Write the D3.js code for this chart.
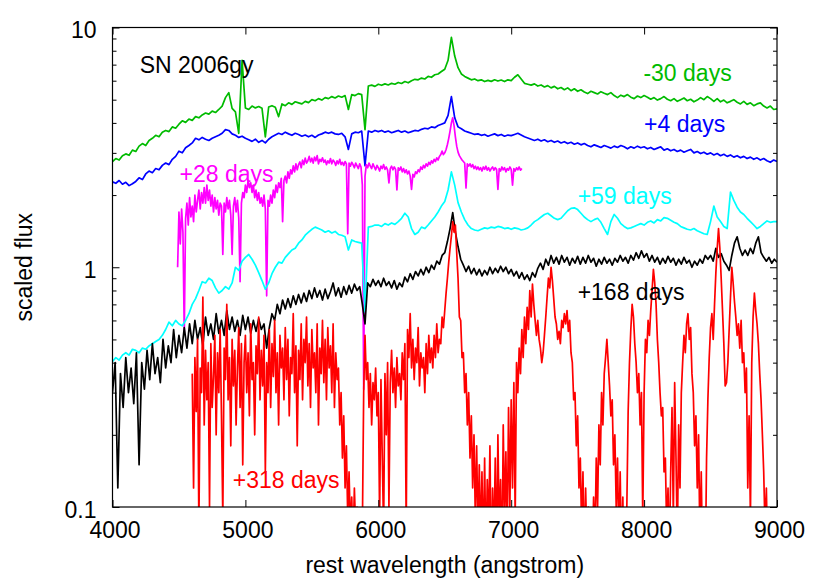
<!DOCTYPE html>
<html><head><meta charset="utf-8">
<script src="https://cdn.jsdelivr.net/npm/d3@7/dist/d3.min.js"></script>
<style>body{margin:0;background:#fff}text{font-family:"Liberation Sans",Arial,Helvetica,sans-serif}</style>
</head><body>
<svg id="chart" width="830" height="581"></svg>
<script>
// ---------- axis ticks ----------
const xTicks = [4000,5000,6000,7000,8000,9000];
const yTicks = [0.1,1,10];
const yTickLabels = ["0.1","1","10"];
const yMinorTicks = [0.2,0.3,0.4,0.5,0.6,0.7,0.8,0.9,2,3,4,5,6,7,8,9];

// ---------- spectra (scaled flux, uniform wavelength grid between start and end) ----------
const greenRange = [4000,9000]; // -30 days
const greenFlux = [
2.76,2.84,2.80,2.92,2.97,2.93,3.08,3.04,3.20,3.28,3.22,3.38,3.45,3.55,3.50,3.66,3.72,3.68,3.85,3.80,
3.95,4.08,4.02,4.15,4.10,4.25,4.20,4.32,4.40,4.35,4.48,4.42,4.55,4.70,5.10,5.35,4.60,4.45,3.62,7.30,
4.62,4.55,4.70,4.62,4.68,4.60,3.50,4.66,4.72,4.65,4.25,4.80,4.72,4.85,4.78,4.90,4.85,4.80,4.92,4.86,
5.00,4.95,5.05,4.98,5.10,5.05,5.15,5.08,5.18,5.12,5.20,4.55,5.25,5.20,5.30,5.25,3.75,5.70,5.75,5.68,
5.80,5.74,5.82,5.76,5.85,5.80,5.90,5.84,5.95,5.88,6.00,6.08,6.05,6.15,6.10,6.25,6.20,6.35,6.40,6.55,
6.70,7.30,9.10,7.60,6.80,6.40,6.25,6.15,6.05,6.10,6.00,6.05,5.95,6.02,5.96,6.05,5.98,6.04,5.95,6.05,
6.00,6.20,6.35,6.10,5.85,5.80,5.75,5.82,5.70,5.76,5.65,5.72,5.60,5.68,5.55,5.62,5.50,5.60,5.45,5.55,
5.42,5.50,5.38,5.30,5.42,5.35,5.28,5.40,5.32,5.25,5.35,5.20,5.10,5.22,5.15,5.25,5.12,5.05,5.18,5.10,
5.20,5.12,5.02,5.10,4.98,5.05,5.15,5.02,4.95,5.05,4.92,5.00,5.08,4.95,5.02,4.90,4.98,5.10,5.00,5.15,
5.05,4.92,5.05,4.90,4.98,4.85,4.92,5.00,4.88,4.80,4.92,4.78,4.85,4.72,4.80,4.85,4.70,4.62,4.70,4.55,
4.58];

const blueRange = [4000,9000]; // +4 days
const blueFlux = [
2.27,2.24,2.30,2.22,2.26,2.19,2.23,2.28,2.36,2.32,2.45,2.52,2.48,2.58,2.55,2.66,2.72,2.68,2.82,2.90,
3.05,3.00,3.15,3.22,3.30,3.45,3.40,3.48,3.42,3.38,3.45,3.50,3.55,3.62,3.75,3.72,3.60,3.55,3.48,3.52,
3.45,3.40,3.35,3.42,3.32,3.38,3.30,3.42,3.50,3.56,3.62,3.58,3.66,3.60,3.55,3.62,3.58,3.52,3.56,3.50,
3.55,3.48,3.56,3.60,3.66,3.62,3.66,3.60,3.58,3.62,3.50,3.10,3.60,3.66,3.64,3.70,2.65,3.70,3.66,3.72,
3.68,3.72,3.66,3.70,3.64,3.68,3.72,3.66,3.70,3.64,3.68,3.72,3.70,3.76,3.80,3.78,3.85,3.82,3.90,3.95,
4.00,4.30,5.15,4.20,3.85,3.78,3.70,3.66,3.62,3.58,3.60,3.55,3.58,3.52,3.56,3.60,3.54,3.58,3.52,3.56,
3.54,3.58,3.62,3.56,3.50,3.46,3.42,3.38,3.42,3.36,3.40,3.34,3.38,3.32,3.36,3.30,3.34,3.28,3.32,3.26,
3.30,3.24,3.28,3.22,3.18,3.24,3.20,3.16,3.22,3.18,3.14,3.20,3.16,3.22,3.18,3.12,3.18,3.14,3.20,3.15,
3.18,3.12,3.16,3.10,3.14,3.18,3.08,3.12,3.06,3.10,3.04,3.08,3.02,3.06,3.10,3.00,3.04,2.98,3.02,2.96,
3.00,2.94,2.98,2.92,2.96,2.90,2.94,2.88,2.92,2.86,2.90,2.84,2.88,2.82,2.86,2.80,2.84,2.78,2.74,2.80,
2.76];

const magentaRange = [4490,7080]; // +28 days
const magentaFlux = [
1.00,1.70,1.25,1.75,1.40,0.53,1.60,1.85,1.50,1.95,1.62,1.80,1.55,2.00,1.70,1.90,2.10,1.75,2.05,1.85,
2.15,1.85,2.20,1.90,2.10,1.80,2.00,1.70,1.95,1.75,1.90,1.65,1.85,1.80,1.13,1.85,1.70,1.95,1.75,1.90,
1.65,1.13,1.80,1.95,1.70,1.90,1.60,0.87,1.85,2.05,1.95,2.20,2.05,2.30,2.15,2.25,2.05,2.20,1.95,2.10,
1.90,2.05,1.85,1.95,1.80,2.00,1.75,0.76,1.90,1.80,2.00,1.85,2.10,1.95,2.20,2.05,2.25,2.15,2.35,1.55,
2.30,2.40,2.25,2.50,2.35,2.55,2.45,2.65,2.50,2.70,2.55,2.68,2.75,2.60,2.80,2.68,2.85,2.72,2.78,2.90,
2.75,2.85,2.72,2.88,2.78,2.92,2.70,2.82,2.76,2.86,2.74,2.80,2.68,2.78,2.72,2.84,2.70,2.80,2.75,2.66,
2.78,2.70,2.82,2.68,2.74,2.66,2.76,2.70,1.38,2.72,2.64,2.74,2.68,2.60,2.72,2.65,2.58,2.70,2.62,2.20,
0.31,2.40,2.68,2.60,2.72,2.64,2.58,2.70,2.62,2.55,2.66,2.60,2.52,2.64,2.58,2.68,2.56,2.62,2.54,2.25,
2.58,2.64,2.55,2.62,2.56,2.10,2.60,2.54,2.62,2.50,2.58,2.48,2.55,2.45,2.52,2.40,2.11,2.44,2.38,2.50,
2.46,2.55,2.50,2.62,2.56,2.66,2.60,2.70,2.64,2.74,2.68,2.78,2.72,2.82,2.76,2.86,2.80,2.90,2.95,3.05,
2.95,3.00,3.10,3.25,3.45,3.70,4.00,4.20,3.90,3.50,3.20,3.02,2.92,2.86,2.80,2.76,2.72,2.14,2.70,2.64,
2.70,2.62,2.68,2.58,2.64,2.56,2.62,2.55,2.60,2.52,2.62,2.56,2.64,2.54,2.60,2.52,2.58,2.62,2.54,2.60,
2.56,2.11,2.58,2.52,2.62,2.55,2.60,2.50,2.58,2.54,2.62,2.56,2.20,2.58,2.52,2.60,2.55,2.62,2.54,2.58];

const cyanRange = [4000,9000]; // +59 days
const cyanFlux = [
0.405,0.42,0.41,0.43,0.44,0.43,0.455,0.45,0.44,0.46,0.455,0.47,0.48,0.49,0.50,0.52,0.55,0.59,0.57,0.60,
0.58,0.57,0.60,0.64,0.70,0.74,0.80,0.87,0.86,0.90,0.88,0.82,0.78,0.80,0.83,0.81,0.86,1.00,0.97,1.06,
1.10,1.13,1.08,1.02,0.95,0.88,0.81,0.86,0.94,1.00,1.05,1.04,1.10,1.14,1.18,1.20,1.26,1.30,1.36,1.40,
1.44,1.47,1.45,1.43,1.40,1.42,1.39,1.41,1.37,1.36,1.34,1.18,1.30,1.28,1.27,1.26,0.65,1.47,1.48,1.50,
1.50,1.48,1.52,1.50,1.53,1.51,1.55,1.60,1.68,1.62,1.45,1.37,1.40,1.47,1.45,1.50,1.56,1.62,1.70,1.80,
1.88,2.10,2.50,2.20,1.86,1.70,1.58,1.50,1.45,1.43,1.42,1.44,1.46,1.45,1.47,1.46,1.48,1.47,1.45,1.46,
1.44,1.46,1.45,1.43,1.44,1.46,1.50,1.55,1.58,1.62,1.66,1.68,1.64,1.60,1.58,1.60,1.66,1.72,1.76,1.77,
1.74,1.68,1.62,1.58,1.55,1.58,1.60,1.54,1.45,1.37,1.55,1.66,1.60,1.52,1.48,1.45,1.46,1.48,1.50,1.52,
1.50,1.54,1.56,1.53,1.58,1.56,1.61,1.60,1.57,1.54,1.52,1.48,1.46,1.44,1.43,1.45,1.42,1.40,1.38,1.37,
1.55,1.80,1.62,1.55,1.48,1.45,2.06,1.90,1.78,1.70,1.66,1.60,1.55,1.50,1.45,1.48,1.52,1.56,1.54,1.55,
1.55];

const blackRange = [4000,9000]; // +168 days
const blackFlux = [
0.30,0.40,0.12,0.36,0.26,0.42,0.30,0.38,0.27,0.44,0.15,0.40,0.31,0.45,0.34,0.48,0.36,0.42,0.33,0.50,0.38,0.47,0.40,0.55,0.42,
0.52,0.44,0.56,0.46,0.58,0.48,0.60,0.50,0.56,0.47,0.62,0.52,0.58,0.50,0.64,0.53,0.60,0.52,0.66,0.55,0.62,0.54,0.60,0.52,0.63,
0.55,0.62,0.53,0.60,0.54,0.61,0.55,0.58,0.46,0.56,0.64,0.60,0.70,0.64,0.73,0.67,0.74,0.68,0.76,0.70,0.77,0.71,0.78,0.72,0.80,
0.74,0.82,0.75,0.80,0.73,0.81,0.74,0.79,0.86,0.76,0.82,0.75,0.83,0.77,0.84,0.78,0.85,0.80,0.83,0.70,0.58,0.86,0.83,0.89,0.84,
0.88,0.83,0.90,0.84,0.87,0.82,0.88,0.81,0.86,0.83,0.91,0.87,0.94,0.89,0.96,0.92,0.98,0.93,1.00,0.95,1.02,0.98,1.06,1.03,1.12,
1.15,1.28,1.45,1.69,1.40,1.22,1.08,1.02,0.96,1.01,0.94,0.99,0.93,0.98,0.92,0.97,0.93,1.00,0.94,0.99,0.95,1.01,0.96,1.00,0.94,
0.98,0.92,0.96,0.90,0.95,0.89,0.93,0.88,0.95,0.91,0.99,1.04,0.98,1.08,1.02,1.12,1.04,1.10,1.03,1.12,1.05,1.10,1.02,1.09,1.04,
1.11,1.03,1.10,1.04,1.12,1.05,1.09,1.01,1.08,1.03,1.10,1.04,1.08,1.02,1.09,1.05,1.12,1.06,1.10,1.04,1.12,1.07,1.15,1.09,1.17,
1.10,1.14,1.06,1.12,1.05,1.10,1.03,1.09,1.04,1.11,1.05,1.09,1.02,1.08,1.03,1.10,1.04,1.07,1.00,1.06,1.02,1.08,1.04,1.12,1.08,
1.12,1.06,1.20,1.10,1.14,1.06,1.02,0.97,1.12,1.26,1.34,1.20,1.12,1.18,1.12,1.20,1.14,1.26,1.34,1.15,1.10,1.06,1.10,1.04,1.08,
1.05];

const redRange = [4600,8940]; // +318 days
const redFlux = [
0.36,0.12,0.42,0.25,0.50,0.08,0.38,0.30,0.75,0.22,0.45,0.28,0.40,0.10,0.48,0.26,0.35,0.52,0.20,0.44,
0.30,0.55,0.24,0.09,0.46,0.34,0.70,0.28,0.42,0.18,0.50,0.32,0.45,0.22,0.38,0.56,0.26,0.48,0.15,0.40,
0.52,0.30,0.44,0.24,0.58,0.34,0.40,0.20,0.47,0.36,0.62,0.28,0.45,0.32,0.52,0.14,0.40,0.30,0.55,0.26,
0.48,0.35,0.60,0.30,0.44,0.22,0.52,0.38,0.46,0.28,0.56,0.34,0.50,0.24,0.42,0.36,0.64,0.30,0.47,0.18,
0.45,0.34,0.58,0.28,0.50,0.40,0.62,0.32,0.48,0.26,0.55,0.38,0.44,0.30,0.58,0.22,0.46,0.36,0.60,0.33,
0.50,0.28,0.56,0.38,0.47,0.30,0.58,0.26,0.44,0.34,0.38,0.22,0.30,0.16,0.24,0.12,0.18,0.09,0.14,0.08,
0.11,0.07,0.12,0.08,0.10,0.06,0.09,0.07,0.08,0.30,0.52,0.34,0.40,0.26,0.36,0.22,0.33,0.28,0.38,0.24,
0.30,0.09,0.34,0.16,0.08,0.36,0.20,0.40,0.10,0.33,0.45,0.30,0.38,0.26,0.42,0.32,0.36,0.28,0.44,0.34,
0.48,0.08,0.55,0.42,0.64,0.38,0.50,0.34,0.46,0.40,0.56,0.32,0.44,0.38,0.42,0.30,0.48,0.36,0.52,0.40,
0.46,0.38,0.52,0.42,0.58,0.44,0.50,0.48,0.62,0.56,0.66,0.78,0.90,1.05,1.20,1.35,1.55,1.40,1.50,1.15,
0.90,0.62,0.60,0.42,0.44,0.30,0.36,0.22,0.30,0.16,0.24,0.12,0.20,0.09,0.18,0.08,0.15,0.07,0.14,0.06,
0.16,0.06,0.13,0.08,0.18,0.05,0.12,0.07,0.16,0.06,0.20,0.08,0.13,0.05,0.22,0.09,0.17,0.07,0.26,0.10,
0.28,0.12,0.33,0.09,0.40,0.30,0.46,0.36,0.55,0.42,0.62,0.48,0.68,0.55,0.80,0.62,0.85,0.70,0.60,0.52,
0.60,0.50,0.46,0.40,0.44,0.52,0.62,0.75,0.90,0.82,1.00,0.88,0.74,0.62,0.58,0.50,0.54,0.48,0.60,0.56,
0.64,0.58,0.66,0.54,0.60,0.44,0.40,0.28,0.30,0.18,0.24,0.12,0.16,0.08,0.14,0.06,0.12,0.07,0.10,0.05,
0.09,0.06,0.11,0.07,0.16,0.10,0.22,0.15,0.30,0.22,0.36,0.42,0.50,0.40,0.32,0.24,0.28,0.15,0.20,0.10,
0.16,0.07,0.14,0.06,0.11,0.05,0.08,0.10,0.25,0.40,0.55,0.70,0.62,0.48,0.40,0.30,0.36,0.22,0.30,0.09,
0.30,0.50,0.44,0.60,0.52,0.66,0.80,0.98,0.86,0.70,0.50,0.40,0.30,0.24,0.26,0.14,0.16,0.08,0.12,0.06,
0.14,0.26,0.09,0.33,0.16,0.07,0.22,0.12,0.30,0.40,0.52,0.44,0.58,0.64,0.50,0.56,0.36,0.30,0.18,0.24,
0.12,0.20,0.07,0.14,0.06,0.10,0.05,0.16,0.28,0.42,0.56,0.64,0.50,0.70,0.95,1.20,1.45,1.20,0.90,0.66,
0.48,0.32,0.33,0.40,0.55,0.75,1.00,0.86,0.72,0.62,0.52,0.58,0.46,0.60,0.40,0.44,0.30,0.38,0.12,0.24,
0.09,0.40,0.62,0.78,0.66,0.58,0.48,0.36,0.28,0.20,0.14,0.08,0.12,0.06,0.05];

// draw order: green, blue, magenta, cyan, black, red
const seriesNames  = ["-30 days","+4 days","+28 days","+59 days","+168 days","+318 days"];
const seriesColors = ["#00bb00","#0000ff","#ff00ff","#00ffff","#000000","#ff0000"];
const seriesRanges = [greenRange, blueRange, magentaRange, cyanRange, blackRange, redRange];
const seriesFluxes = [greenFlux, blueFlux, magentaFlux, cyanFlux, blackFlux, redFlux];

// text labels (data coordinates)
const labelTexts  = ["SN 2006gy","-30 days","+4 days","+28 days","+59 days","+168 days","+318 days"];
const labelWaves  = [4205,7995,8000,4505,7500,7500,4905];
const labelFluxes = [6.97,6.49,3.95,2.46,1.98,0.79,0.130];
const labelColors = ["#000000","#00bb00","#0000ff","#ff00ff","#00ffff","#000000","#ff0000"];

// ---------- layout ----------
const L = 112.5, R = 777, T = 27.5, B = 507;
const FS = 23;
const svg = d3.select("#chart");
svg.append("rect").attr("width",830).attr("height",581).attr("fill","#fff");

const x = d3.scaleLinear().domain([4000,9000]).range([L,R]);
const y = d3.scaleLog().domain([0.1,10]).range([B,T]);

svg.append("defs").append("clipPath").attr("id","plotclip")
  .append("rect").attr("x",L).attr("y",T).attr("width",R-L).attr("height",B-T);

// spectra
const line = d3.line().x(d=>x(d[0])).y(d=>y(d[1])).curve(d3.curveLinear);
const gLines = svg.append("g").attr("clip-path","url(#plotclip)");
seriesFluxes.forEach((flux,k)=>{
  const [s,e] = seriesRanges[k];
  const n = flux.length;
  const pts = flux.map((f,i)=>[s + i*(e-s)/(n-1), f]);
  gLines.append("path").datum(pts)
    .attr("d",line).attr("fill","none")
    .attr("stroke",seriesColors[k]).attr("stroke-width",1.7)
    .attr("stroke-linejoin","round");
});

// axes
function styleAxis(g){
  g.select(".domain").remove();
  g.selectAll(".tick line").attr("stroke","#000").attr("stroke-width",1);
  g.selectAll("text").attr("fill","#000").style("font-size",FS+"px")
   .style("font-family",'"Liberation Sans",Arial,Helvetica,sans-serif');
}
svg.append("g").attr("transform",`translate(0,${B})`)
  .call(d3.axisBottom(x).tickValues(xTicks).tickSizeInner(-7).tickSizeOuter(0).tickPadding(15).tickFormat(d3.format("d")))
  .call(styleAxis).call(g=>g.selectAll("text").attr("dx",2));
svg.append("g").attr("transform",`translate(0,${T})`)
  .call(d3.axisTop(x).tickValues(xTicks).tickSizeInner(-7).tickSizeOuter(0).tickFormat(""))
  .call(styleAxis);
svg.append("g").attr("transform",`translate(${L},0)`)
  .call(d3.axisLeft(y).tickValues(yTicks).tickSizeInner(-7).tickSizeOuter(0).tickPadding(16).tickFormat((d,i)=>yTickLabels[i]))
  .call(styleAxis).call(g=>g.selectAll("text").attr("dy","0.45em"));
svg.append("g").attr("transform",`translate(${L},0)`)
  .call(d3.axisLeft(y).tickValues(yMinorTicks).tickSizeInner(-4).tickSizeOuter(0).tickFormat(""))
  .call(styleAxis);
svg.append("g").attr("transform",`translate(${R},0)`)
  .call(d3.axisRight(y).tickValues(yTicks).tickSizeInner(-7).tickSizeOuter(0).tickFormat(""))
  .call(styleAxis);
svg.append("g").attr("transform",`translate(${R},0)`)
  .call(d3.axisRight(y).tickValues(yMinorTicks).tickSizeInner(-4).tickSizeOuter(0).tickFormat(""))
  .call(styleAxis);

// frame
svg.append("rect").attr("x",L).attr("y",T).attr("width",R-L).attr("height",B-T)
  .attr("fill","none").attr("stroke","#000").attr("stroke-width",1.2);

// labels
labelTexts.forEach((t,i)=>{
  svg.append("text").attr("x",x(labelWaves[i])).attr("y",y(labelFluxes[i]))
    .attr("dy","0.36em").attr("fill",labelColors[i]).style("font-size",FS+"px").text(t);
});

// axis titles
svg.append("text").attr("x",(L+R)/2).attr("y",573).attr("text-anchor","middle")
  .attr("fill","#000").style("font-size",FS+"px").text("rest wavelength (angstrom)");
svg.append("text").attr("transform",`translate(32,${(T+B)/2}) rotate(-90)`).attr("text-anchor","middle")
  .attr("fill","#000").style("font-size",FS+"px").text("scaled flux");
</script>
</body></html>
